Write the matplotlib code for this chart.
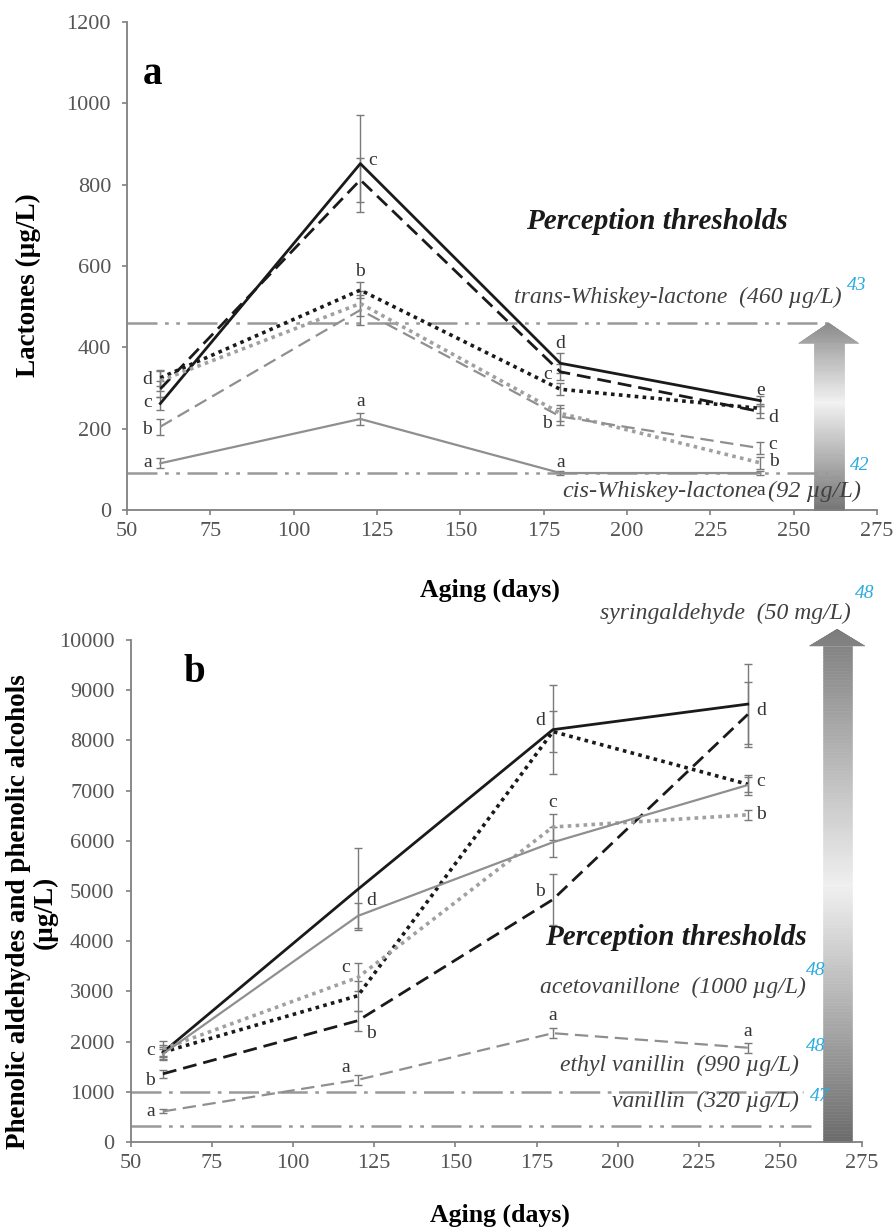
import matplotlib
matplotlib.use('Agg')
import matplotlib.pyplot as plt
import numpy as np
from matplotlib.collections import PolyCollection
from matplotlib.colors import LinearSegmentedColormap

plt.rcParams['font.family'] = ['Liberation Serif', 'DejaVu Serif']

days = [60, 120, 180, 240]

# panel a - lactones (ug/L)
lac_black_solid = [262, 852, 361, 269]
lac_black_solid_err = [15, 120, 25, 12]
lac_black_dashed = [298, 812, 340, 242]
lac_black_dashed_err = [20, 55, 20, 15]
lac_black_dotted = [325, 541, 297, 250]
lac_black_dotted_err = [20, 20, 15, 12]
lac_grey_dotted = [318, 508, 238, 116]
lac_grey_dotted_err = [25, 30, 20, 15]
lac_grey_dashed = [205, 492, 230, 152]
lac_grey_dashed_err = [20, 37, 20, 15]
lac_grey_solid = [115, 224, 91, 91]
lac_grey_solid_err = [12, 15, 5, 5]

lac_letter_days = [60, 60, 60, 60, 120, 120, 120, 180, 180, 180, 180, 240, 240, 240, 240, 240]
lac_letter_vals = [320, 264, 197, 116, 860, 586, 266, 410, 334, 214, 116, 293, 227, 162, 119, 49]
lac_letters = ['d', 'c', 'b', 'a', 'c', 'b', 'a', 'd', 'c', 'b', 'a', 'e', 'd', 'c', 'b', 'a']
lac_letter_side = ['l', 'l', 'l', 'l', 'r', 'm', 'm', 'm', 'l', 'l', 'm', 'm', 'r', 'r', 'r', 'm']

# panel b - phenolic aldehydes and alcohols (ug/L)
phe_black_solid = [1788, 5033, 8213, 8722]
phe_black_solid_err = [150, 815, 880, 800]
phe_black_dashed = [1358, 2417, 4829, 8517]
phe_black_dashed_err = [80, 200, 500, 650]
phe_black_dotted = [1790, 2914, 8175, 7125]
phe_black_dotted_err = [100, 300, 400, 150]
phe_grey_solid = [1755, 4503, 5970, 7110]
phe_grey_solid_err = [100, 250, 300, 200]
phe_grey_dotted = [1854, 3278, 6274, 6517]
phe_grey_dotted_err = [150, 280, 250, 100]
phe_grey_dashed = [609, 1238, 2167, 1878]
phe_grey_dashed_err = [40, 100, 100, 100]

phe_letter_days = [60, 60, 60, 120, 120, 120, 120, 180, 180, 180, 180, 240, 240, 240, 240]
phe_letter_vals = [1821, 1225, 609, 4801, 3477, 2152, 1490, 8403, 6768, 4981, 2510, 8593, 7171, 6517, 2205]
phe_letters = ['c', 'b', 'a', 'd', 'c', 'b', 'a', 'd', 'c', 'b', 'a', 'd', 'c', 'b', 'a']
phe_letter_side = ['l', 'l', 'l', 'r', 'l', 'r', 'l', 'l', 'm', 'l', 'm', 'r', 'r', 'r', 'm']

# perception thresholds
lac_thr_vals = [460, 92]
phe_thr_vals = [1000, 320]

BLACK = '#1a1a1a'
GREY = '#8f8f8f'
LGREY = '#a0a0a0'
TXT = '#404040'
BLUE = '#29abe2'
THR_DASH = (0, (12, 3, 1.5, 3, 1.5, 3))

styles = [
    (BLACK, '-', 2.0),
    (BLACK, (0, (5, 2.5)), 2.0),
    (BLACK, (0, (1, 1.2)), 2.6),
    (LGREY, (0, (1, 1.2)), 2.6),
    (GREY, (0, (6, 3)), 1.6),
    (GREY, '-', 1.6),
]


def grad_arrow(ax, xc, body_w, head_w, head_y, tip_y, cmap):
    ys = np.concatenate([np.linspace(0, head_y, 160), np.linspace(head_y, tip_y, 40)[1:]])
    polys, cols = [], []
    for y0, y1 in zip(ys[:-1], ys[1:]):
        if y1 <= head_y:
            w0 = w1 = body_w / 2
        else:
            w0 = head_w / 2 * (tip_y - y0) / (tip_y - head_y)
            w1 = head_w / 2 * (tip_y - y1) / (tip_y - head_y)
        polys.append([(xc - w0, y0), (xc + w0, y0), (xc + w1, y1), (xc - w1, y1)])
        cols.append(cmap((y0 + y1) / 2 / tip_y))
    pc = PolyCollection(polys, facecolors=cols, edgecolors=cols, linewidths=0.4,
                        clip_on=False, zorder=1)
    ax.add_collection(pc)


def style_axes(ax, ymax, ystep):
    ax.set_xlim(50, 275)
    ax.set_ylim(0, ymax)
    ax.set_xticks(np.arange(50, 276, 25))
    ax.set_yticks(np.arange(0, ymax + 1, ystep))
    for s in ['top', 'right']:
        ax.spines[s].set_visible(False)
    for s in ['left', 'bottom']:
        ax.spines[s].set_color('#808080')
        ax.spines[s].set_linewidth(1.3)
    ax.tick_params(direction='out', length=3.5, width=1.2, color='#808080',
                   labelsize=16, labelcolor='#555555')
    ax.tick_params(axis='y', pad=8)
    ax.tick_params(axis='x', pad=5)


def draw_series(ax, series, errs):
    for vals, err, (c, ls, lw) in zip(series, errs, styles):
        ax.errorbar(days, vals, yerr=err, fmt='none', ecolor='#7a7a7a',
                    elinewidth=1, capsize=3, capthick=1, zorder=2)
        ax.plot(days, vals, color=c, linestyle=ls, linewidth=lw, zorder=3)


def draw_letters(ax, ds, vs, ls, sides, dx):
    for d, v, l, s in zip(ds, vs, ls, sides):
        if s == 'l':
            ax.text(d - dx, v, l, ha='right', va='center', fontsize=14, color='#333333')
        elif s == 'r':
            ax.text(d + dx, v, l, ha='left', va='center', fontsize=14, color='#333333')
        else:
            ax.text(d, v, l, ha='center', va='center', fontsize=14, color='#333333')


fig = plt.figure(figsize=(8.96, 12.29), dpi=100)
ax_a = fig.add_axes([127 / 896, 0.585, 750 / 896, 0.397])
ax_b = fig.add_axes([130.5 / 896, 0.0708, 731 / 896, 0.4085])

# ---- panel a ----
style_axes(ax_a, 1200, 200)
draw_series(ax_a, [lac_black_solid, lac_black_dashed, lac_black_dotted,
                   lac_grey_dotted, lac_grey_dashed, lac_grey_solid],
            [lac_black_solid_err, lac_black_dashed_err, lac_black_dotted_err,
             lac_grey_dotted_err, lac_grey_dashed_err, lac_grey_solid_err])
for v in lac_thr_vals:
    ax_a.plot([50, 261], [v, v], color='#999999', linestyle=THR_DASH, linewidth=1.8, zorder=1)
cmap_a = LinearSegmentedColormap.from_list('ga', [(0, '#6e6e6e'), (0.58, '#f2f2f2'), (1, '#8c8c8c')])
grad_arrow(ax_a, 260.5, 9, 18, 410, 460, cmap_a)
draw_letters(ax_a, lac_letter_days, lac_letter_vals, lac_letters, lac_letter_side, 2.5)

ax_a.text(57.5, 1070, 'a', fontsize=28, fontweight='bold', ha='center', va='center')
ax_a.text(209, 709, 'Perception thresholds', fontsize=21, fontweight='bold',
          style='italic', ha='center', va='center', color='#1a1a1a')
ax_a.text(264.5, 524, 'trans-Whiskey-lactone  (460 µg/L)', fontsize=17, style='italic',
          ha='right', va='center', color=TXT)
ax_a.text(266, 552, '43', fontsize=14, style='italic', ha='left', va='center', color=BLUE)
ax_a.text(239.3, 46, 'cis-Whiskey-lactone', fontsize=17.5, style='italic',
          ha='right', va='center', color=TXT)
ax_a.text(242.3, 46, '(92 µg/L)', fontsize=17.5, style='italic',
          ha='left', va='center', color=TXT)
ax_a.text(267, 110, '42', fontsize=14, style='italic', ha='left', va='center', color=BLUE)

fig.text(490 / 896, 1 - 590 / 1229, 'Aging (days)', fontsize=18.5, fontweight='bold',
         ha='center', va='center')
fig.text(28 / 896, 1 - 285 / 1229, 'Lactones (µg/L)', fontsize=19.5, fontweight='bold',
         rotation=90, ha='center', va='center')

# ---- panel b ----
style_axes(ax_b, 10000, 1000)
draw_series(ax_b, [phe_black_solid, phe_black_dashed, phe_black_dotted,
                   phe_grey_dotted, phe_grey_dashed, phe_grey_solid],
            [phe_black_solid_err, phe_black_dashed_err, phe_black_dotted_err,
             phe_grey_dotted_err, phe_grey_dashed_err, phe_grey_solid_err])
ax_b.plot([50, 257], [phe_thr_vals[0]] * 2, color='#999999',
          linestyle=(0, (12, 3, 1.5, 3)), linewidth=1.8, zorder=1)
ax_b.plot([50, 259.5], [phe_thr_vals[1]] * 2, color='#999999',
          linestyle=THR_DASH, linewidth=1.8, zorder=1)
cmap_b = LinearSegmentedColormap.from_list('gb', [(0, '#6a6a6a'), (0.5, '#f0f0f0'), (1, '#7c7c7c')])
grad_arrow(ax_b, 267.5, 9, 17, 9880, 10213, cmap_b)
draw_letters(ax_b, phe_letter_days, phe_letter_vals, phe_letters, phe_letter_side, 2.5)

ax_b.text(69.5, 9350, 'b', fontsize=28, fontweight='bold', ha='center', va='center')
ax_b.text(271.8, 10531, 'syringaldehyde  (50 mg/L)', fontsize=17, style='italic',
          ha='right', va='center', color=TXT)
ax_b.text(273, 10930, '48', fontsize=14, style='italic', ha='left', va='center', color=BLUE)
ax_b.text(218, 4068, 'Perception thresholds', fontsize=21, fontweight='bold',
          style='italic', ha='center', va='center', color='#1a1a1a')
ax_b.text(258, 3080, 'acetovanillone  (1000 µg/L)', fontsize=17, style='italic',
          ha='right', va='center', color=TXT)
ax_b.text(258, 3420, '48', fontsize=14, style='italic', ha='left', va='center', color=BLUE)
ax_b.text(255.7, 1534, 'ethyl vanillin  (990 µg/L)', fontsize=17, style='italic',
          ha='right', va='center', color=TXT)
ax_b.text(258, 1898, '48', fontsize=14, style='italic', ha='left', va='center', color=BLUE)
ax_b.text(255.7, 803, 'vanillin  (320 µg/L)', fontsize=17, style='italic',
          ha='right', va='center', color=TXT)
ax_b.text(259, 902, '47', fontsize=14, style='italic', ha='left', va='center', color=BLUE)

fig.text(500 / 896, 1 - 1215 / 1229, 'Aging (days)', fontsize=18.5, fontweight='bold',
         ha='center', va='center')
fig.text(32 / 896, 1 - 912 / 1229, 'Phenolic aldehydes and phenolic alcohols\n(µg/L)',
         fontsize=19.5, fontweight='bold', rotation=90, ha='center', va='center',
         multialignment='center', linespacing=1.1)

fig.savefig('out.png', dpi=100)
